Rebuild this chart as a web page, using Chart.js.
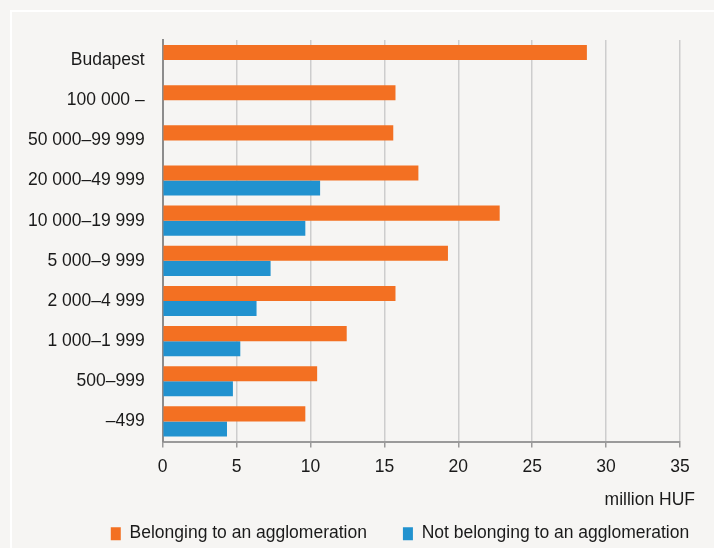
<!DOCTYPE html>
<html>

<head>
    <title>Average value by settlement size</title>
    <script src="https://cdn.jsdelivr.net/npm/chart.js"></script>
    <style>
        body {
            margin: 0;
            background: #f6f5f3;
        }

        #panel {
            position: absolute;
            left: 10px;
            top: 10px;
            width: 800px;
            height: 600px;
            border-left: 2px solid #fff;
            border-top: 2px solid #fff;
        }

        #wrap {
            position: absolute;
            left: 0;
            top: 0;
            width: 714px;
            height: 548px;
        }
    </style>
</head>

<body>
    <div id="panel"></div>
    <div id="wrap"><canvas id="chart"></canvas></div>

    <script>
        // data
        const categories = ['Budapest', '100 000 –', '50 000–99 999', '20 000–49 999', '10 000–19 999',
            '5 000–9 999', '2 000–4 999', '1 000–1 999', '500–999', '–499'];
        const belonging = [28.7, 15.75, 15.6, 17.3, 22.8, 19.3, 15.75, 12.45, 10.45, 9.65];
        const notBelonging = [null, null, null, 10.65, 9.65, 7.3, 6.35, 5.25, 4.75, 4.35];
        const seriesNames = ['Belonging to an agglomeration', 'Not belonging to an agglomeration'];
        const xMin = 0, xMax = 35, xStep = 5;
        const unitLabel = 'million HUF';

        const FONT = '"Liberation Sans", Arial, sans-serif';
        Chart.defaults.font.family = FONT;
        Chart.defaults.font.size = 17.5;
        Chart.defaults.color = '#1a1a1a';

        // unit text sits a little past the end of the x axis
        const unitText = {
            id: 'unitText',
            afterDraw(chart) {
                const ctx = chart.ctx;
                ctx.save();
                ctx.font = '17.5px ' + FONT;
                ctx.fillStyle = '#1a1a1a';
                ctx.textAlign = 'right';
                ctx.textBaseline = 'middle';
                ctx.fillText(unitLabel, chart.chartArea.right + 15, 500);
                ctx.restore();
            }
        };

        new Chart(document.getElementById('chart'), {
            type: 'bar',
            data: {
                labels: categories,
                datasets: [{
                    label: seriesNames[0],
                    data: belonging,
                    backgroundColor: '#f37022',
                    borderWidth: 0
                }, {
                    label: seriesNames[1],
                    data: notBelonging,
                    backgroundColor: '#2192cf',
                    borderWidth: 0
                }]
            },
            options: {
                indexAxis: 'y',
                responsive: true,
                maintainAspectRatio: false,
                animation: false,
                categoryPercentage: 0.75,
                barPercentage: 1,
                layout: {
                    // negative right padding lets the legend run past the plot, like the original
                    padding: { left: 0, right: -86, top: 40, bottom: -4.4 }
                },
                scales: {
                    x: {
                        min: xMin,
                        max: xMax,
                        ticks: { stepSize: xStep, padding: 9 },
                        grid: { color: '#cdcdcd', lineWidth: 1.5, tickLength: 6, tickColor: '#9a9a9a' },
                        border: { color: '#9a9a9a', width: 2 },
                        afterFit: (s) => {
                            s.height = 47.4;
                            s.paddingRight = 34;
                        }
                    },
                    y: {
                        ticks: { padding: 18 },
                        grid: { display: false, drawTicks: false },
                        border: { color: '#8c8c8c', width: 2 },
                        afterFit: (s) => { s.width = 162.7; }
                    }
                },
                plugins: {
                    legend: {
                        position: 'bottom',
                        labels: { boxWidth: 10, boxHeight: 13, padding: 36 }
                    },
                    tooltip: { enabled: false }
                }
            },
            plugins: [unitText]
        });
    </script>

</body>

</html>
